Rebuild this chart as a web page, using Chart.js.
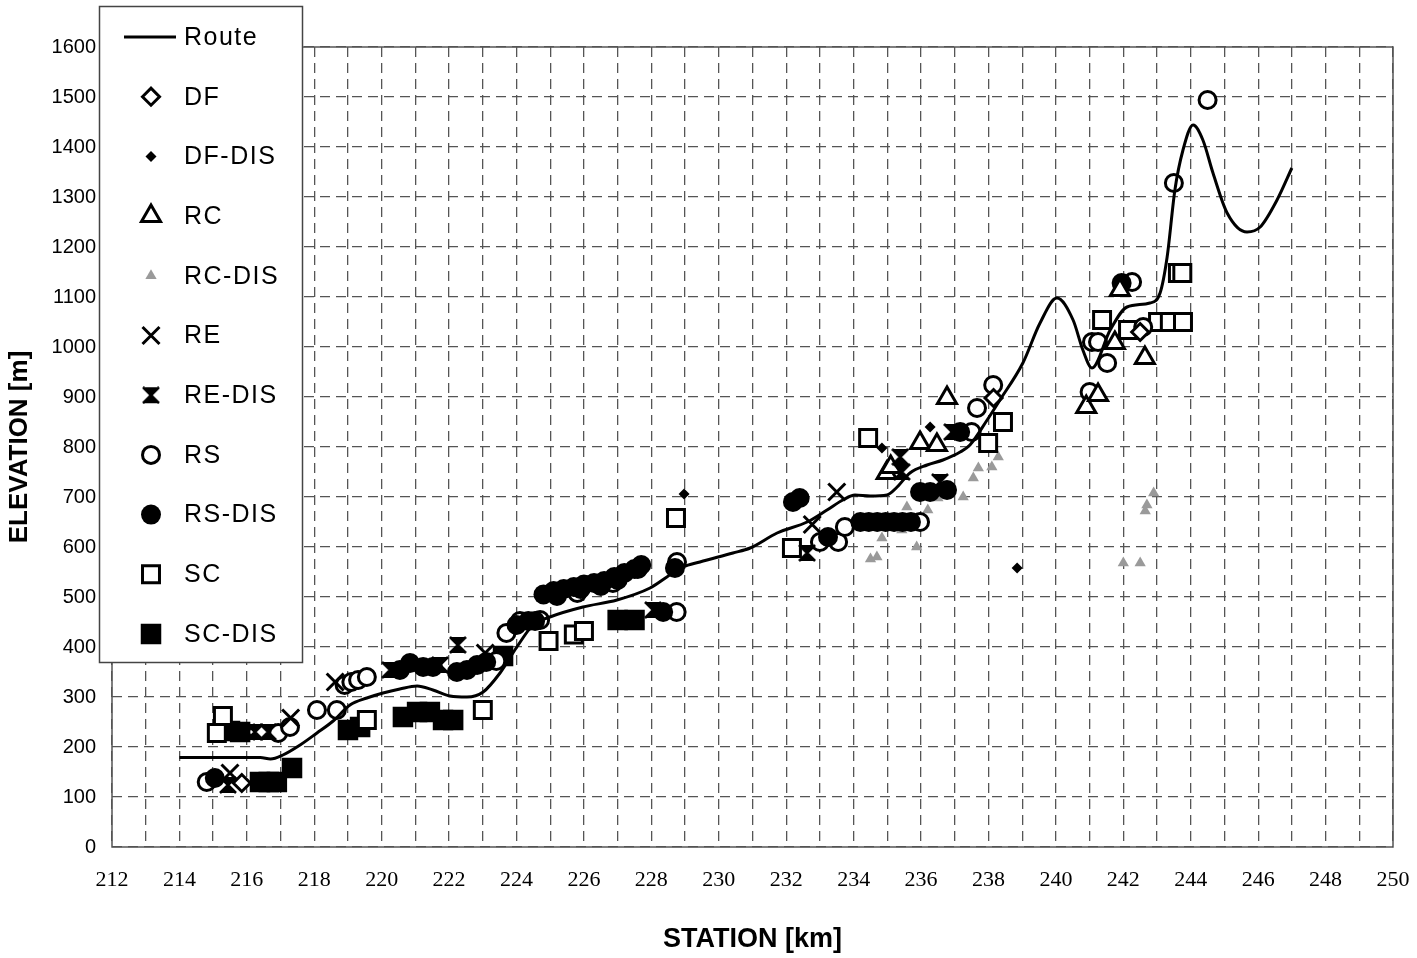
<!DOCTYPE html>
<html>
<head>
<meta charset="utf-8">
<script src="https://cdn.jsdelivr.net/npm/chart.js@4.4.1/dist/chart.umd.min.js"></script>
<style>
html,body{margin:0;padding:0;background:#fff;}
#wrap{width:1417px;height:958px;position:relative;}
</style>
</head>
<body>
<div id="wrap"><canvas id="c"></canvas></div>
<script>
// ---- tick labels ----
const xTickLabels = [212,214,216,218,220,222,224,226,228,230,232,234,236,238,240,242,244,246,248,250];
const yTickLabels = [0,100,200,300,400,500,600,700,800,900,1000,1100,1200,1300,1400,1500,1600];
const seriesNames = ['Route','DF','DF-DIS','RC','RC-DIS','RE','RE-DIS','RS','RS-DIS','SC','SC-DIS'];

// ---- series values: [station km, elevation m] ----
const ROUTE = [[214.0,179],[216.4,179],[216.7,176],[217.07,184],[217.58,204],[218.08,228],[218.56,252],[219.06,284],[219.56,298],[220.04,308],[220.54,316],[221.05,322],[221.52,314],[222.03,302],[222.53,300],[223.01,310],[223.51,348],[224.01,400],[224.49,444],[224.99,460],[225.97,480],[226.98,494],[227.96,518],[228.46,540],[228.94,560],[229.44,570],[230.42,588],[230.93,598],[231.73,628],[232.62,650],[233.21,674],[233.68,694],[234.04,704],[234.49,702],[234.99,704],[235.29,720],[235.67,748],[236.18,764],[236.65,774],[237.16,790],[237.45,804],[237.96,854],[238.34,894],[239.02,968],[239.53,1048],[240.03,1098],[240.51,1054],[240.8,994],[241.07,958],[241.61,1034],[242.11,1080],[242.79,1088],[243.09,1108],[243.3,1180],[243.53,1314],[243.77,1394],[244.07,1444],[244.36,1414],[244.66,1348],[245.08,1268],[245.67,1230],[246.06,1240],[246.56,1294],[247.0,1358]];
const DF = [[215.85,128],[238.15,898],[242.5,1030]];
const DF_DIS = [[228.97,706],[234.84,798],[236.27,840],[238.85,558]];
const RC = [[234.98,748],[235.1,760],[235.97,808],[236.47,804],[236.77,898],[240.9,880],[241.25,904],[241.75,1008],[241.9,1114],[242.64,978]];
const RC_DIS = [[234.5,576],[234.69,580],[234.84,618],[235.43,634],[235.58,680],[235.87,600],[236.2,674],[236.5,698],[237.25,700],[237.55,738],[237.7,758],[238.1,760],[238.29,780],[242.0,568],[242.5,568],[242.65,672],[242.7,684],[242.9,708]];
const RE = [[215.5,148],[217.3,258],[218.62,330],[223.07,388],[232.77,645],[233.5,710]];
const RE_DIS = [[215.44,124],[216.0,230],[216.24,230],[216.63,230],[220.25,354],[221.73,364],[222.26,404],[228.05,474],[232.62,588],[235.38,780],[235.43,750],[236.56,730],[236.92,830]];
const RS = [[214.81,130],[216.93,228],[217.28,240],[218.08,274],[218.67,274],[218.9,324],[219.1,330],[219.3,334],[219.56,340],[223.4,372],[223.7,428],[224.1,452],[224.7,454],[225.8,508],[226.86,528],[227.6,556],[228.75,470],[228.76,570],[233.0,610],[233.54,610],[233.74,640],[235.97,650],[237.5,830],[237.66,878],[238.14,924],[241.0,910],[241.07,1010],[241.25,1010],[241.52,968],[242.26,1130],[242.59,1040],[243.5,1328],[244.5,1494]];
const RS_DIS = [[215.05,138],[220.54,354],[220.84,368],[221.23,360],[221.52,360],[222.23,350],[222.53,354],[222.83,364],[223.1,370],[224.0,444],[224.35,452],[224.55,452],[224.8,505],[225.1,512],[225.2,502],[225.4,516],[225.7,520],[225.9,516],[226.0,525],[226.3,528],[226.5,522],[226.6,532],[226.9,540],[227.0,534],[227.2,548],[227.5,556],[227.7,564],[228.35,470],[228.7,558],[232.2,690],[232.4,698],[233.24,620],[234.2,650],[234.45,650],[234.7,650],[234.95,650],[235.2,650],[235.45,650],[235.7,650],[235.97,710],[236.27,710],[236.77,714],[237.16,830],[241.95,1128]];
const SC = [[215.11,228],[215.29,262],[219.56,254],[223.0,274],[224.95,412],[225.7,425],[226.0,432],[228.73,658],[232.17,598],[234.43,818],[237.99,808],[238.43,850],[241.37,1054],[242.14,1034],[243.03,1050],[243.38,1050],[243.77,1050],[243.62,1148],[243.75,1148]];
const SC_DIS = [[215.5,232],[215.8,230],[216.39,130],[216.65,130],[216.89,130],[217.34,158],[219.0,234],[219.36,240],[220.63,260],[221.05,270],[221.43,270],[221.82,254],[222.12,254],[223.6,382],[227.0,454],[227.5,454]];

// ---- custom RE-DIS marker ----
function makeReDis(){
  const c = document.createElement('canvas');
  c.width = 18; c.height = 18;
  const g = c.getContext('2d');
  g.fillStyle = '#000';
  g.beginPath(); g.moveTo(1,1); g.lineTo(17,1); g.lineTo(9,9); g.closePath(); g.fill();
  g.beginPath(); g.moveTo(1,17); g.lineTo(17,17); g.lineTo(9,9); g.closePath(); g.fill();
  g.strokeStyle = '#000'; g.lineWidth = 2.5;
  g.beginPath(); g.moveTo(1,1); g.lineTo(17,17); g.moveTo(17,1); g.lineTo(1,17); g.stroke();
  return c;
}
const reDisImg = makeReDis();

const toXY = arr => arr.map(p => ({x:p[0], y:p[1]}));
function sc(label, arr, style, radius, bw, fill, stroke, order){
  return {label, data: toXY(arr), showLine:false, pointStyle:style, pointRadius:radius,
    pointBorderWidth:bw, pointBackgroundColor:fill, pointBorderColor:stroke, order};
}

const datasets = [
  {label:'Route', data: toXY(ROUTE), showLine:true, borderColor:'#000', borderWidth:3, pointRadius:0,
   cubicInterpolationMode:'monotone', fill:false, order:0},
  sc('DF', DF, 'rectRot', 8.5, 3, '#fff', '#000', 2),
  sc('DF-DIS', DF_DIS, 'rectRot', 5.5, 0, '#000', '#000', 1),
  sc('RC', RC, 'triangle', 11, 3, '#fff', '#000', 5),
  sc('RC-DIS', RC_DIS, 'triangle', 6.5, 0, '#9a9a9a', '#9a9a9a', 9),
  sc('RE', RE, 'crossRot', 12, 3, '#000', '#000', 3),
  sc('RE-DIS', RE_DIS, reDisImg, 9, 0, '#000', '#000', 4),
  sc('RS', RS, 'circle', 8.5, 3, '#fff', '#000', 7),
  sc('RS-DIS', RS_DIS, 'circle', 10, 0, '#000', '#000', 6),
  sc('SC', SC, 'rect', 12, 3, '#fff', '#000', 8),
  sc('SC-DIS', SC_DIS, 'rect', 14.5, 0, '#000', '#000', 10)
];

const frame = {
  id:'frame',
  beforeDatasetsDraw(chart){
    const {ctx, chartArea:a} = chart;
    ctx.save();
    ctx.strokeStyle = '#555'; ctx.lineWidth = 1.5;
    ctx.strokeRect(a.left, a.top, a.right - a.left, a.bottom - a.top);
    ctx.restore();
  }
};

const boxLegend = {
  id:'boxLegend',
  afterDraw(chart){
    const ctx = chart.ctx;
    ctx.save();
    ctx.fillStyle = '#fff'; ctx.strokeStyle = '#444'; ctx.lineWidth = 1.5;
    ctx.fillRect(99.5, 6.5, 203, 656);
    ctx.strokeRect(99.5, 6.5, 203, 656);
    chart.data.datasets.forEach((d, i) => {
      const y = 37 + i * 59.7;
      if (d.showLine) {
        ctx.strokeStyle = '#000'; ctx.lineWidth = 3;
        ctx.beginPath(); ctx.moveTo(124, y); ctx.lineTo(176, y); ctx.stroke();
      } else {
        ctx.fillStyle = d.pointBackgroundColor; ctx.strokeStyle = d.pointBorderColor;
        ctx.lineWidth = d.pointBorderWidth;
        const opts = {pointStyle:d.pointStyle, radius:d.pointRadius, rotation:0, borderWidth:d.pointBorderWidth};
        if (Chart.helpers && Chart.helpers.drawPoint) {
          Chart.helpers.drawPoint(ctx, opts, 151, y);
        } else {
          ctx.beginPath(); ctx.arc(151, y, d.pointRadius, 0, Math.PI*2); ctx.fill();
        }
      }
      ctx.fillStyle = '#000';
      ctx.font = '25px "Liberation Sans", Arial, sans-serif';
      try { ctx.letterSpacing = '1.5px'; } catch(e) {}
      ctx.textBaseline = 'middle'; ctx.textAlign = 'left';
      ctx.fillText(seriesNames[i], 184, y + 1);
      try { ctx.letterSpacing = '0px'; } catch(e) {}
    });
    ctx.restore();
  }
};

const gridCommon = {color:'#555', lineWidth:1.3, drawTicks:false};

new Chart(document.getElementById('c'), {
  type:'scatter',
  data:{datasets},
  plugins:[frame, boxLegend],
  options:{
    responsive:true, maintainAspectRatio:false, animation:false, events:[],
    layout:{padding:{top:47, right:24, left:0, bottom:0}},
    plugins:{legend:{display:false}, tooltip:{enabled:false}},
    scales:{
      x:{
        type:'linear', min:212, max:250,
        ticks:{stepSize:1, autoSkip:false, maxRotation:0, minRotation:0, padding:20, color:'#000',
          font:{family:'"Liberation Serif", "Times New Roman", serif', size:22},
          callback:v => xTickLabels.includes(v) ? String(v) : ''},
        grid:gridCommon,
        border:{display:false, dash:[10,6]},
        title:{display:true, text:'STATION [km]', color:'#000',
          font:{family:'"Liberation Sans", Arial, sans-serif', size:27, weight:'bold'},
          padding:{top:0, bottom:2}},
        afterFit:s => { s.height = 111; s.paddingRight = 0; s.paddingLeft = 0; }
      },
      y:{
        type:'linear', min:0, max:1600,
        ticks:{stepSize:100, autoSkip:false, padding:16, color:'#000',
          font:{family:'"Liberation Sans", Arial, sans-serif', size:20},
          callback:v => yTickLabels.includes(v) ? String(v) : ''},
        grid:gridCommon,
        border:{display:false, dash:[10,6]},
        title:{display:true, text:'ELEVATION [m]', color:'#000',
          font:{family:'"Liberation Sans", Arial, sans-serif', size:26, weight:'bold'},
          padding:{top:4, bottom:0}},
        afterFit:s => { s.width = 112; s.paddingTop = 0; s.paddingBottom = 0; }
      }
    }
  }
});
</script>
</body>
</html>
